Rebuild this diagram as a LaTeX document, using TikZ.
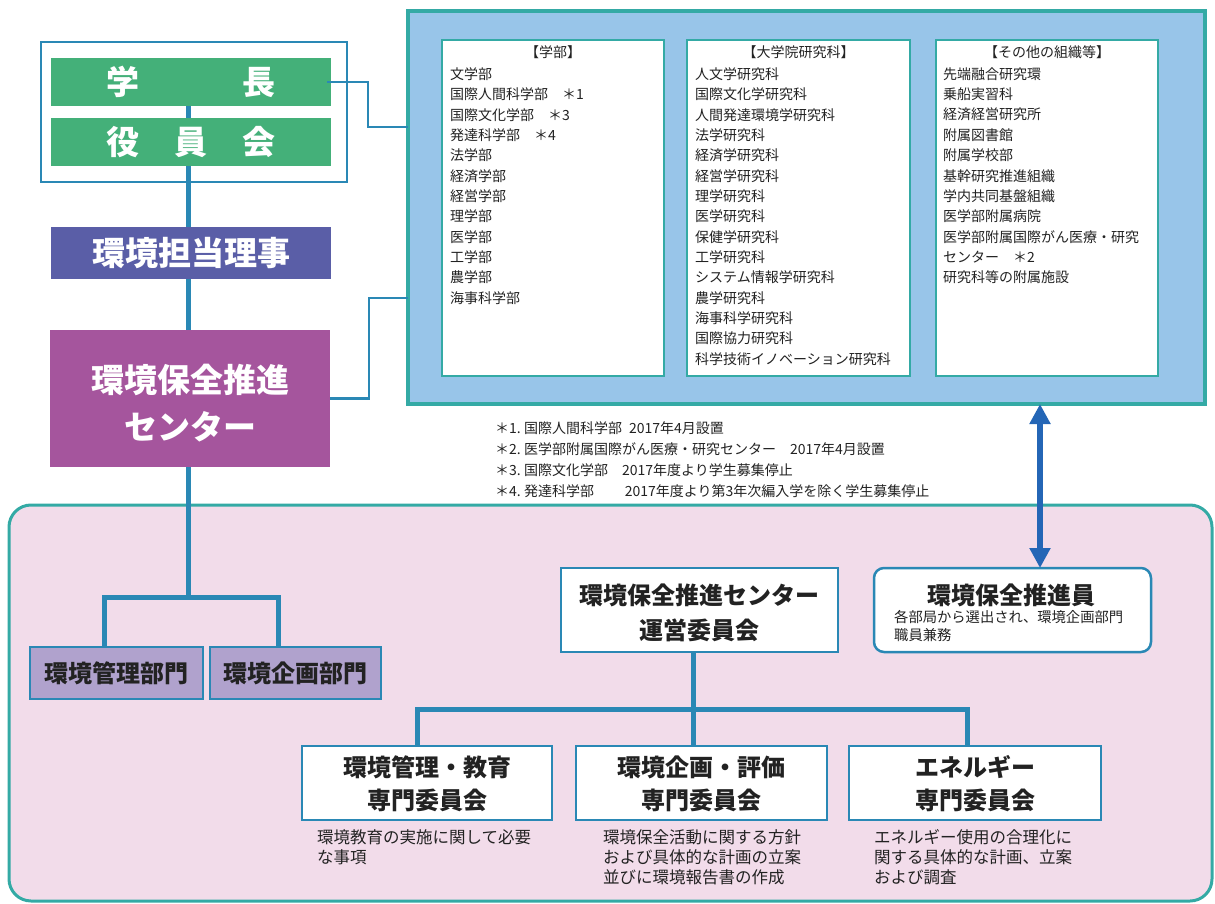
\documentclass[tikz,border=0pt]{standalone}
\usepackage{fontspec}
\setmainfont{Noto Sans CJK JP}
\usetikzlibrary{arrows.meta}
\definecolor{lineblue}{HTML}{2A88B5}
\definecolor{gakugreen}{HTML}{44B079}
\definecolor{rijiblue}{HTML}{5A5EA7}
\definecolor{centmag}{HTML}{A5559D}
\definecolor{skyfill}{HTML}{98C5E9}
\definecolor{tealb}{HTML}{34AAA5}
\definecolor{pinkfill}{HTML}{F2DCEA}
\definecolor{lavfill}{HTML}{B0A2CD}
\definecolor{arrowblue}{HTML}{2466B6}
\definecolor{txt}{HTML}{222222}
\begin{document}
\begin{tikzpicture}[x=1pt,y=-1pt,
  box/.style={rectangle, inner sep=0pt, outer sep=0pt},
  colbox/.style={box, text=white, font=\fontsize{33}{38}\selectfont\bfseries},
  listbox/.style={box, draw=tealb, line width=2.5pt, fill=white},
  divbox/.style={box, draw=lineblue, line width=2.5pt, fill=lavfill, text=txt, font=\fontsize{24}{28}\selectfont\bfseries},
  combox/.style={box, draw=lineblue, line width=2.5pt, fill=white},
  ttl/.style={inner sep=0pt, text=txt, font=\fontsize{24}{28}\selectfont\bfseries},
  wtl/.style={inner sep=0pt, text=white, font=\fontsize{33}{38}\selectfont\bfseries},
  lst/.style={anchor=west, inner sep=0pt, text=txt, font=\fontsize{14}{16}\selectfont},
  desc/.style={anchor=west, inner sep=0pt, text=txt, font=\fontsize{16.5}{19}\selectfont},
  tree/.style={draw=lineblue, line width=5pt},
  thinc/.style={draw=lineblue, line width=2.5pt},
]
\useasboundingbox (0,0) rectangle (1215,904);

% big background areas
\node[box, draw=tealb, line width=3pt, fill=pinkfill, rounded corners=22pt,
      minimum width=1203pt, minimum height=396pt] (pink) at (610.5,703) {};
\node[box, draw=tealb, line width=3.5pt, fill=skyfill,
      minimum width=797pt, minimum height=393pt] (blue) at (806.5,207.5) {};

% list boxes
\node[listbox, minimum width=222pt, minimum height=336pt] (list1) at (553,208) {};
\node[listbox, minimum width=223pt, minimum height=336pt] (list2) at (798.5,208) {};
\node[listbox, minimum width=222pt, minimum height=336pt] (list3) at (1047,208) {};

\node[lst, anchor=center] (h1) at (553,52) {【学部】};
\node[lst, anchor=center] (h2) at (798.5,52) {【大学院研究科】};
\node[lst, anchor=center] (h3) at (1047,52) {【その他の組織等】};

\foreach \t [count=\i from 0] in {文学部, 国際人間科学部　＊1, 国際文化学部　＊3, 発達科学部　＊4, 法学部, 経済学部, 経営学部, 理学部, 医学部, 工学部, 農学部, 海事科学部}
  \node[lst] (fa\i) at (450,{74+20.35*\i}) {\t};
\foreach \t [count=\i from 0] in {人文学研究科, 国際文化学研究科, 人間発達環境学研究科, 法学研究科, 経済学研究科, 経営学研究科, 理学研究科, 医学研究科, 保健学研究科, 工学研究科, システム情報学研究科, 農学研究科, 海事科学研究科, 国際協力研究科, 科学技術イノベーション研究科}
  \node[lst] (gr\i) at (695,{74+20.35*\i}) {\t};
\foreach \t [count=\i from 0] in {先端融合研究環, 乗船実習科, 経済経営研究所, 附属図書館, 附属学校部, 基幹研究推進組織, 学内共同基盤組織, 医学部附属病院, 医学部附属国際がん医療・研究, センター　＊2, 研究科等の附属施設}
  \node[lst] (ot\i) at (943,{74+20.35*\i}) {\t};

% footnotes
\node[lst] (fn1) at (495,428) {＊1.\ 国際人間科学部\hspace{0.5em}2017年4月設置};
\node[lst] (fn2) at (495,449) {＊2.\ 医学部附属国際がん医療・研究センター\hspace{1em}2017年4月設置};
\node[lst] (fn3) at (495,470) {＊3.\ 国際文化学部\hspace{1em}2017年度より学生募集停止};
\node[lst] (fn4) at (495,491) {＊4.\ 発達科学部\hspace{2.2em}2017年度より第3年次編入学を除く学生募集停止};

% top-left hierarchy
\node[box, draw=lineblue, line width=2pt, minimum width=306pt, minimum height=140pt] (top) at (194,112) {};
\node[colbox, fill=gakugreen, minimum width=280pt, minimum height=48pt] (gaku) at (191,82) {学\hspace{103pt}長};
\node[colbox, fill=gakugreen, minimum width=280pt, minimum height=48pt] (yaku) at (191,142) {役\hspace{35pt}員\hspace{35pt}会};
\node[colbox, fill=rijiblue, minimum width=280pt, minimum height=52pt] (riji) at (191,253) {環境担当理事};
\node[box, fill=centmag, minimum width=280pt, minimum height=137pt] (hq) at (190,398.5) {};
\node[wtl] (hqa) at (190,380) {環境保全推進};
\node[wtl] (hqb) at (190,427) {センター};

% divisions
\node[divbox, minimum width=173pt, minimum height=52pt] (kanri) at (116.5,673) {環境管理部門};
\node[divbox, minimum width=171pt, minimum height=52pt] (kikaku) at (295.5,673) {環境企画部門};

% committee
\node[combox, minimum width=277pt, minimum height=84pt] (unei) at (699.5,610) {};
\node[ttl] (ueia) at (699,595) {環境保全推進センター};
\node[ttl] (ueib) at (699,630) {運営委員会};

\node[combox, rounded corners=10pt, minimum width=277pt, minimum height=84pt] (sui) at (1012.5,610) {};
\node[ttl] (suia) at (1011,595) {環境保全推進員};
\node[lst, font=\fontsize{14.3}{17}\selectfont] (suib) at (894,617) {各部局から選出され、環境企画部門};
\node[lst, font=\fontsize{14.3}{17}\selectfont] (suic) at (894,635) {職員兼務};

\node[combox, minimum width=250pt, minimum height=74pt] (com1) at (427,783) {};
\node[ttl] (c1a) at (427.5,767) {環境管理・教育};
\node[ttl] (c1b) at (427.5,800) {専門委員会};
\node[combox, minimum width=251pt, minimum height=74pt] (com2) at (701.5,783) {};
\node[ttl] (c2a) at (701,767) {環境企画・評価};
\node[ttl] (c2b) at (701,800) {専門委員会};
\node[combox, minimum width=252pt, minimum height=74pt] (com3) at (975,783) {};
\node[ttl] (c3a) at (975,767) {エネルギー};
\node[ttl] (c3b) at (975,800) {専門委員会};

\node[desc] (d1a) at (317,837) {環境教育の実施に関して必要};
\node[desc] (d1b) at (317,857) {な事項};
\node[desc] (d2a) at (603,837) {環境保全活動に関する方針};
\node[desc] (d2b) at (603,857) {および具体的な計画の立案};
\node[desc] (d2c) at (603,877) {並びに環境報告書の作成};
\node[desc] (d3a) at (874,837) {エネルギー使用の合理化に};
\node[desc] (d3b) at (874,857) {関する具体的な計画、立案};
\node[desc] (d3c) at (874,877) {および調査};

% connectors
\draw[tree] ([xshift=-3pt]gaku.south) -- ([xshift=-3pt]yaku.north);
\draw[tree] ([xshift=-3pt]yaku.south) -- ([xshift=-3pt]riji.north);
\draw[tree] ([xshift=-3pt]riji.south) -- ([xshift=-2pt]hq.north);
\coordinate (b1) at (188,597);
\draw[tree] ([xshift=-2pt]hq.south) -- (b1);
\draw[tree] ([xshift=-12.5pt]kanri.north) |- (b1) -| ([xshift=-17.5pt]kikaku.north);

\coordinate (k1) at (368,127);
\draw[thinc] ([xshift=-4pt]gaku.east) -| (k1) -- (k1 -| blue.west);
\coordinate (k2) at (369,298);
\draw[thinc] (hq.east) -| (k2) -- (k2 -| blue.west);

\coordinate (b2) at (693,709);
\draw[tree] ([xshift=-6.5pt]unei.south) -- ([xshift=-8.5pt]com2.north);
\draw[tree] ([xshift=-10pt]com1.north) |- (b2) -| ([xshift=-8pt]com3.north);

\coordinate (ax) at (1040,0);
\draw[draw=arrowblue, line width=5.5pt, {Triangle[width=20pt,length=20pt]}-{Triangle[width=20pt,length=20pt]}]
  (ax |- blue.south) -- (ax |- sui.north);
\end{tikzpicture}
\end{document}
